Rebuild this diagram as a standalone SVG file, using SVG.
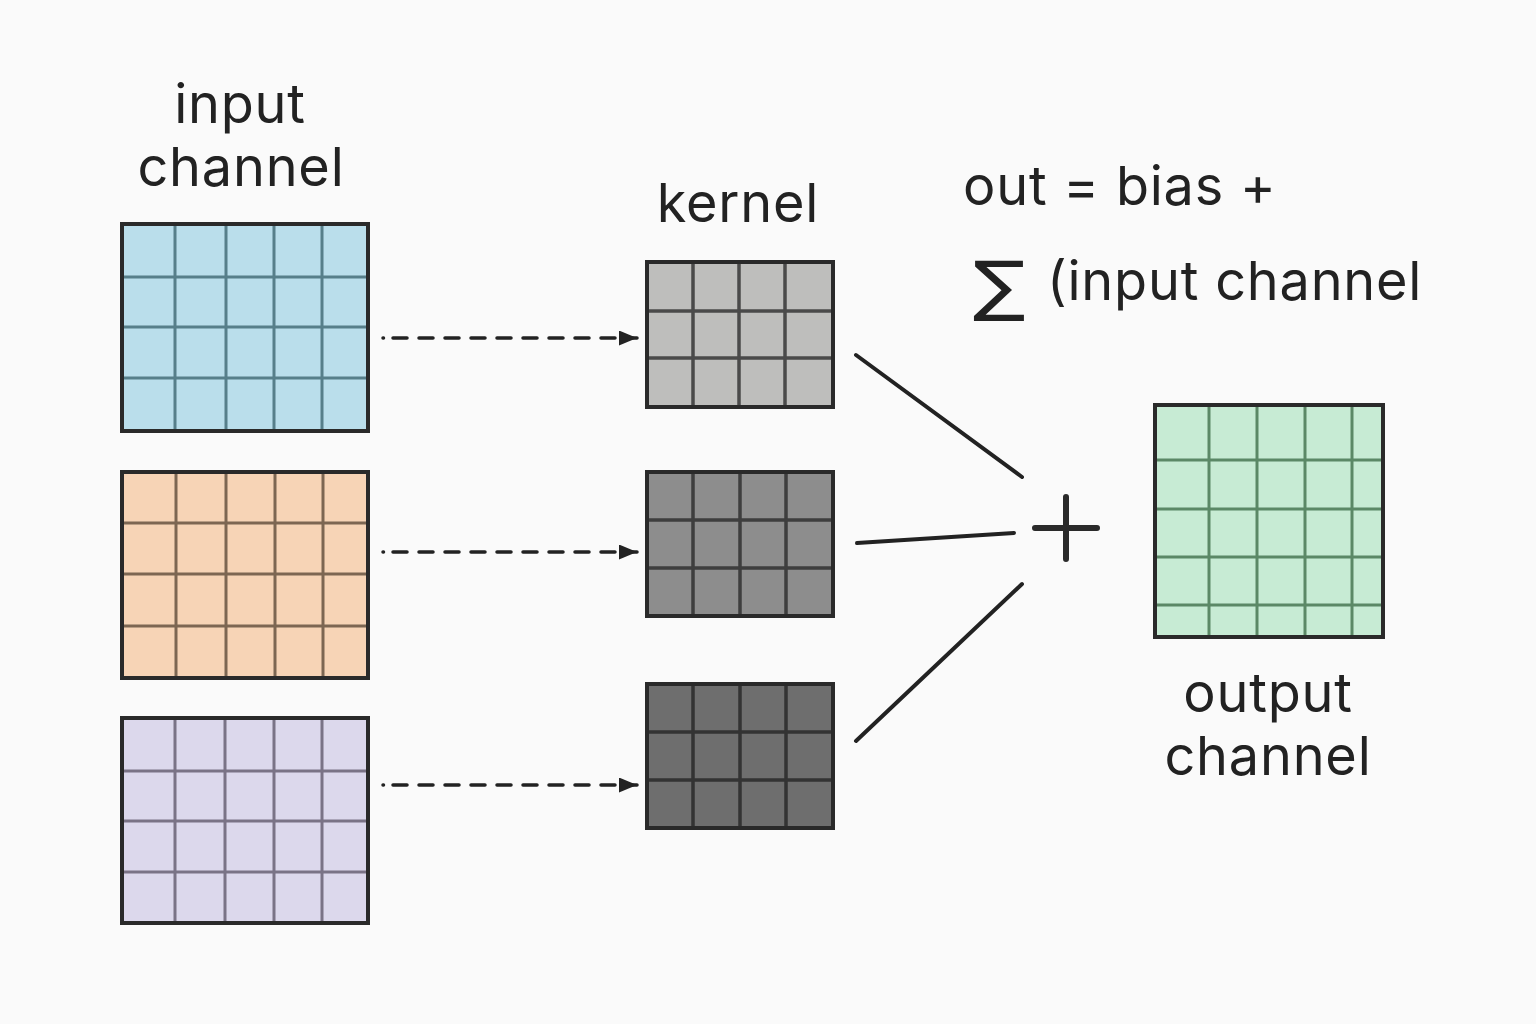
<svg xmlns="http://www.w3.org/2000/svg" width="1536" height="1024" viewBox="0 0 1536 1024">
<style>
.t{font-family:Inter,"Noto Sans","Liberation Sans",sans-serif;font-size:54px;letter-spacing:0.8px;fill:#222;}
.frame{stroke:#2a2a2a;stroke-width:4;}
.conn{stroke:#222;stroke-width:4;stroke-linecap:round;fill:none;}
.dash{stroke:#222;stroke-width:3.5;stroke-dasharray:14 12;stroke-linecap:round;fill:none;}
</style>
<defs>
<marker id="ah" markerWidth="20" markerHeight="16" refX="18" refY="7.5" orient="auto" markerUnits="userSpaceOnUse">
<path d="M0,0 L18,7.5 L0,15 z" fill="#222"/>
</marker>
</defs>
<rect width="1536" height="1024" fill="#fafafa"/>

<g id="input-label">
<text class="t" x="240" y="123" text-anchor="middle">input</text>
<text class="t" x="241" y="186" text-anchor="middle">channel</text>
</g>

<g id="input-blue">
<rect x="122" y="224" width="246" height="207" fill="#badeeb"/>
<g stroke="#577f8a" stroke-width="3">
<line x1="175" y1="224" x2="175" y2="431"/><line x1="226" y1="224" x2="226" y2="431"/><line x1="274" y1="224" x2="274" y2="431"/><line x1="322" y1="224" x2="322" y2="431"/>
<line x1="122" y1="277" x2="368" y2="277"/><line x1="122" y1="327" x2="368" y2="327"/><line x1="122" y1="378" x2="368" y2="378"/>
</g>
<rect x="122" y="224" width="246" height="207" fill="none" class="frame"/>
</g>

<g id="input-orange">
<rect x="122" y="472" width="246" height="206" fill="#f7d4b6"/>
<g stroke="#7d6652" stroke-width="3">
<line x1="176" y1="472" x2="176" y2="678"/><line x1="226" y1="472" x2="226" y2="678"/><line x1="275" y1="472" x2="275" y2="678"/><line x1="323" y1="472" x2="323" y2="678"/>
<line x1="122" y1="523" x2="368" y2="523"/><line x1="122" y1="574" x2="368" y2="574"/><line x1="122" y1="626" x2="368" y2="626"/>
</g>
<rect x="122" y="472" width="246" height="206" fill="none" class="frame"/>
</g>

<g id="input-purple">
<rect x="122" y="718" width="246" height="205" fill="#dcd8ec"/>
<g stroke="#7a7386" stroke-width="3">
<line x1="175" y1="718" x2="175" y2="923"/><line x1="225" y1="718" x2="225" y2="923"/><line x1="274" y1="718" x2="274" y2="923"/><line x1="322" y1="718" x2="322" y2="923"/>
<line x1="122" y1="771" x2="368" y2="771"/><line x1="122" y1="821" x2="368" y2="821"/><line x1="122" y1="872" x2="368" y2="872"/>
</g>
<rect x="122" y="718" width="246" height="205" fill="none" class="frame"/>
</g>

<g id="kernel-label">
<text class="t" x="738" y="222" text-anchor="middle">kernel</text>
</g>

<g id="kernel-1">
<rect x="647" y="262" width="186" height="145" fill="#bebebc"/>
<g stroke="#4a4a4a" stroke-width="3.5">
<line x1="693" y1="262" x2="693" y2="407"/><line x1="739" y1="262" x2="739" y2="407"/><line x1="785" y1="262" x2="785" y2="407"/>
<line x1="647" y1="311" x2="833" y2="311"/><line x1="647" y1="358" x2="833" y2="358"/>
</g>
<rect x="647" y="262" width="186" height="145" fill="none" class="frame"/>
</g>

<g id="kernel-2">
<rect x="647" y="472" width="186" height="144" fill="#8d8d8d"/>
<g stroke="#3e3e3e" stroke-width="3.5">
<line x1="693" y1="472" x2="693" y2="616"/><line x1="740" y1="472" x2="740" y2="616"/><line x1="786" y1="472" x2="786" y2="616"/>
<line x1="647" y1="520" x2="833" y2="520"/><line x1="647" y1="568" x2="833" y2="568"/>
</g>
<rect x="647" y="472" width="186" height="144" fill="none" class="frame"/>
</g>

<g id="kernel-3">
<rect x="647" y="684" width="186" height="144" fill="#6e6e6e"/>
<g stroke="#333" stroke-width="3.5">
<line x1="693" y1="684" x2="693" y2="828"/><line x1="740" y1="684" x2="740" y2="828"/><line x1="786" y1="684" x2="786" y2="828"/>
<line x1="647" y1="732" x2="833" y2="732"/><line x1="647" y1="780" x2="833" y2="780"/>
</g>
<rect x="647" y="684" width="186" height="144" fill="none" class="frame"/>
</g>

<g id="formula">
<text class="t" x="963" y="205">out = bias +</text>
<text x="0" y="308" transform="translate(973,0) scale(1.18,1)" font-size="66" font-family="'DejaVu Sans',sans-serif" fill="#222">∑</text>
<text class="t" x="1047" y="300">(input channel</text>
</g>

<g id="plus">
<path d="M1035,528 H1097 M1066,497 V559" stroke="#2a2a2a" stroke-width="6" stroke-linecap="round"/>
</g>

<g id="output">
<rect x="1155" y="405" width="228" height="232" fill="#c7ebd4"/>
<g stroke="#5b8866" stroke-width="3">
<line x1="1209" y1="405" x2="1209" y2="637"/><line x1="1257" y1="405" x2="1257" y2="637"/><line x1="1305" y1="405" x2="1305" y2="637"/><line x1="1352" y1="405" x2="1352" y2="637"/>
<line x1="1155" y1="460" x2="1383" y2="460"/><line x1="1155" y1="509" x2="1383" y2="509"/><line x1="1155" y1="557" x2="1383" y2="557"/><line x1="1155" y1="605" x2="1383" y2="605"/>
</g>
<rect x="1155" y="405" width="228" height="232" fill="none" class="frame"/>
</g>

<g id="output-label">
<text class="t" x="1268" y="712" text-anchor="middle">output</text>
<text class="t" x="1268" y="775" text-anchor="middle">channel</text>
</g>

<g id="connectors">
<path class="dash" d="M383,338 h0.5 M393,338 H637" marker-end="url(#ah)"/>
<path class="dash" d="M383,552 h0.5 M393,552 H637" marker-end="url(#ah)"/>
<path class="dash" d="M383,785 h0.5 M393,785 H637" marker-end="url(#ah)"/>
<line class="conn" x1="856" y1="355" x2="1022" y2="477"/>
<line class="conn" x1="857" y1="543" x2="1014" y2="533"/>
<line class="conn" x1="856" y1="741" x2="1022" y2="584"/>
</g>
</svg>
